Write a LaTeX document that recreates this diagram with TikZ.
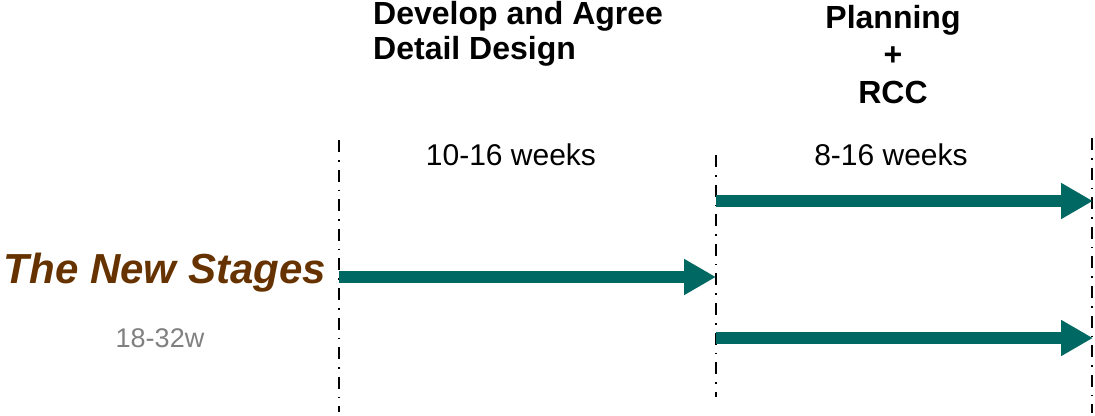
\documentclass[tikz,border=0pt]{standalone}
\usepackage{fontspec}
\setmainfont{Liberation Sans}
\usetikzlibrary{arrows.meta}
\definecolor{teal}{RGB}{0,104,98}
\definecolor{brownish}{RGB}{102,51,0}
\definecolor{graytext}{RGB}{128,128,128}
\begin{document}
\begin{tikzpicture}[x=1pt,y=-1pt,
  divider/.style={line width=1.8pt, dash pattern=on 12pt off 8pt on 1.6pt off 8pt},
  phasearrow/.style={teal, line width=11.5pt, -{Triangle[length=32pt,width=34pt]}},
  heading/.style={inner sep=0pt, font=\fontsize{32}{35}\selectfont\bfseries},
  duration/.style={inner sep=0pt, font=\fontsize{30}{34}\selectfont}]
\useasboundingbox (0,0) rectangle (1095,415);
% dividers
\coordinate (l1t) at (339,140); \coordinate (l1b) at (339,412);
\coordinate (l2t) at (716,155); \coordinate (l2b) at (716,397);
\coordinate (l3t) at (1092,138); \coordinate (l3b) at (1092,413);
\draw[divider] (l1t) -- (l1b);
\draw[divider] (l2t) -- (l2b);
\draw[divider] (l3t) -- (l3b);
% arrows
\coordinate (a1s) at (339,277); \coordinate (a1e) at (716,277);
\coordinate (a2s) at (716,201); \coordinate (a2e) at (1093,201);
\coordinate (a3s) at (716,338); \coordinate (a3e) at (1093,338);
\draw[phasearrow] (a1s) -- (a1e);
\draw[phasearrow] (a2s) -- (a2e);
\draw[phasearrow] (a3s) -- (a3e);
% texts
\node[heading, anchor=base west, align=left] (dev) at (373,59) {Develop and Agree\\Detail Design};
\node[heading, anchor=base, align=center, font=\fontsize{32}{37.5}\selectfont\bfseries] (plan) at (893,103) {Planning\\+\\RCC};
\node[duration, anchor=base] (w1) at (511,165) {10-16 weeks};
\node[duration, anchor=base] (w2) at (891,165) {8-16 weeks};
\node[inner sep=0pt, anchor=base, text=brownish, font=\fontsize{42}{46}\selectfont\bfseries\itshape] (stages) at (165,283) {The New Stages};
\node[inner sep=0pt, anchor=base, text=graytext, font=\fontsize{27}{30}\selectfont] (total) at (160,347) {18-32w};
\end{tikzpicture}
\end{document}
